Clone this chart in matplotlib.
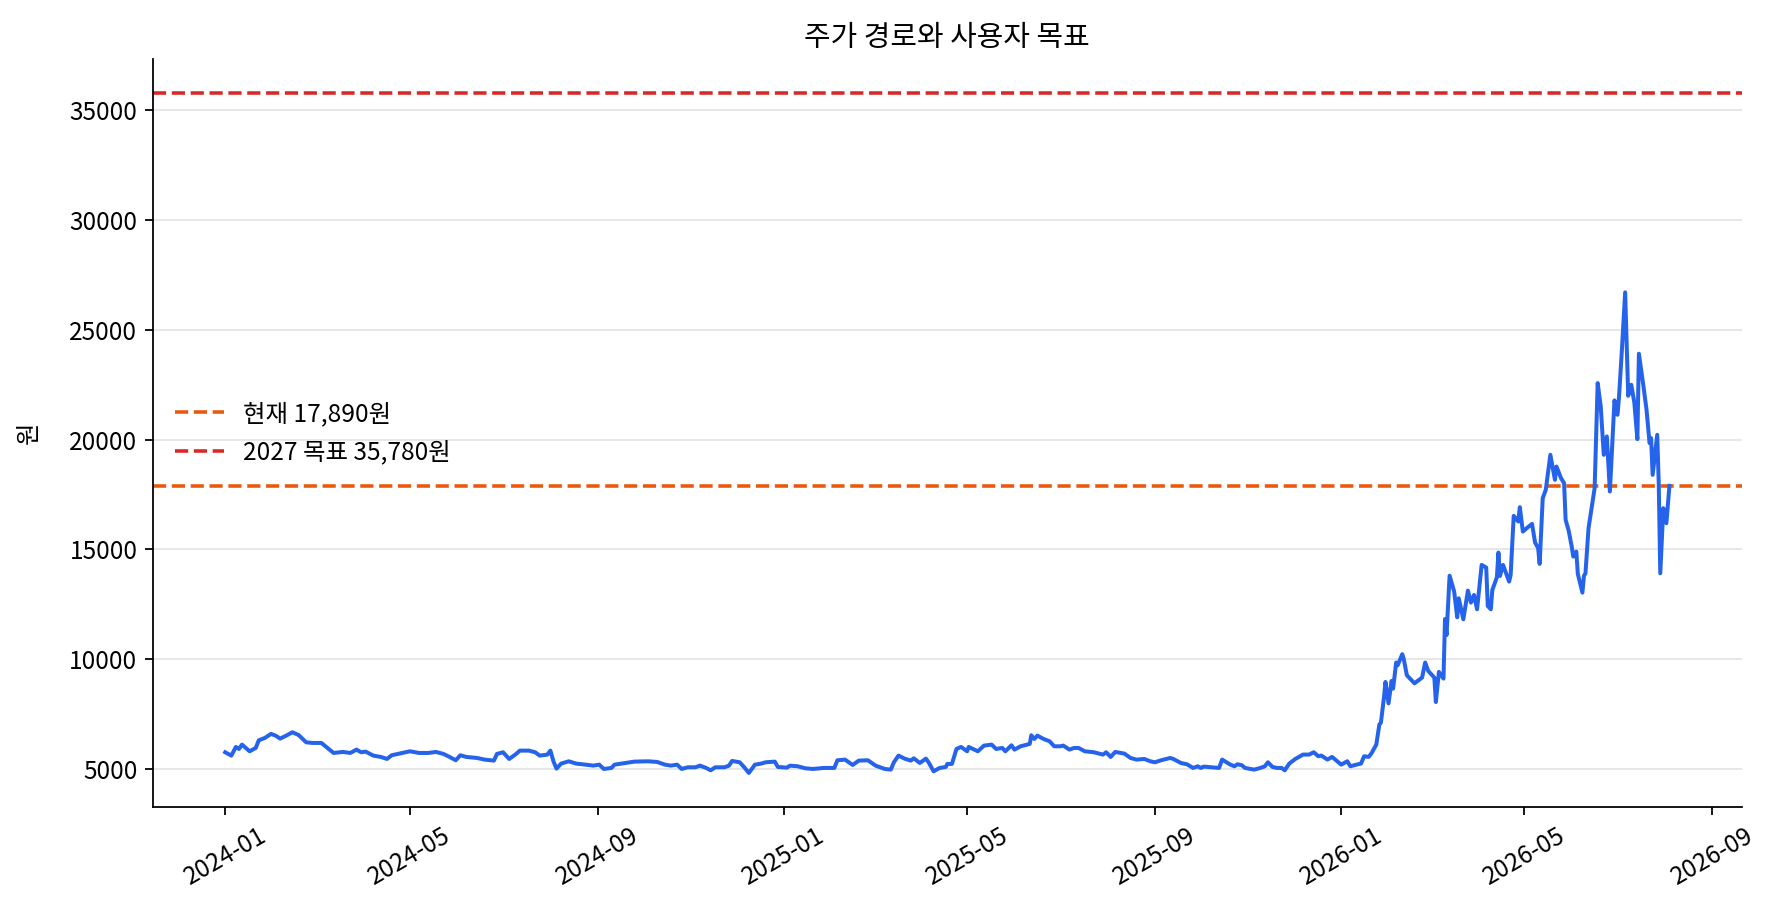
import matplotlib
matplotlib.use("Agg")
import matplotlib.pyplot as plt
import matplotlib.dates as mdates
import pandas as pd

plt.rcParams['font.family'] = ['Noto Sans CJK KR', 'DejaVu Sans']
plt.rcParams['axes.unicode_minus'] = False

# --- data (days since 2024-01-01, price in 원) ---
start_date = "2024-01-01"
day_offsets = [
    0, 4, 7, 9, 11, 16, 20, 22, 26, 30, 33, 36, 40, 44, 48, 53, 57, 63, 67, 71,
    77, 82, 86, 89, 92, 97, 102, 106, 109, 116, 121, 127, 133, 138, 143, 147, 151, 154, 158, 165,
    170, 176, 178, 182, 186, 190, 193, 199, 203, 206, 211, 213, 215, 217, 220, 225, 230, 236, 241, 245,
    248, 253, 255, 262, 268, 277, 283, 288, 292, 296, 299, 303, 308, 311, 315, 318, 321, 327, 330, 332,
    337, 340, 343, 347, 351, 354, 360, 362, 368, 370, 375, 380, 385, 392, 399, 401, 406, 411, 415, 421,
    426, 432, 436, 438, 441, 445, 449, 451, 455, 459, 461, 464, 468, 472, 473, 476, 479, 482, 486, 487,
    493, 497, 502, 505, 509, 511, 515, 517, 521, 527, 528, 530, 532, 536, 540, 543, 547, 549, 553, 556,
    559, 563, 569, 575, 577, 580, 583, 589, 593, 597, 602, 606, 609, 613, 619, 621, 626, 630, 634, 637,
    639, 641, 651, 653, 658, 661, 663, 666, 668, 674, 678, 681, 683, 686, 689, 692, 694, 697, 701, 706,
    710, 713, 716, 718, 722, 725, 731, 735, 737, 741, 744, 746, 749, 751, 754, 756, 757, 759, 760, 762,
    764, 765, 767, 768, 771, 772, 774, 779, 784, 786, 788, 792, 793, 795, 798, 799, 800, 802, 805, 807,
    808, 811, 814, 816, 818, 820, 823, 826, 827, 829, 830, 833, 834, 835, 837, 841, 842, 844, 847, 848,
    850, 853, 856, 858, 860, 861, 863, 865, 868, 871, 872, 875, 877, 878, 880, 882, 883, 885, 886, 889,
    890, 891, 893, 897, 899, 901, 903, 905, 907, 909, 910, 912, 913, 915, 917, 919, 921, 923, 925, 926,
    929, 931, 933, 934, 935, 938, 939, 940, 942, 944, 946,
]
price = [
    5760, 5608, 6003, 5911, 6109, 5805, 5957, 6306, 6413, 6595, 6519, 6382, 6519, 6671, 6549, 6215, 6185, 6185, 5957, 5729,
    5775, 5729, 5881, 5760, 5790, 5608, 5547, 5456, 5623, 5729, 5805, 5729, 5729, 5775, 5684, 5547, 5395, 5623, 5547, 5501,
    5425, 5380, 5684, 5760, 5456, 5653, 5835, 5835, 5760, 5608, 5653, 5835, 5349, 5015, 5243, 5349, 5243, 5197, 5152, 5197,
    5000, 5046, 5197, 5273, 5334, 5349, 5319, 5197, 5152, 5197, 5000, 5076, 5076, 5152, 5046, 4939, 5076, 5076, 5152, 5365,
    5304, 5076, 4818, 5197, 5243, 5304, 5334, 5091, 5061, 5152, 5122, 5030, 5000, 5046, 5046, 5395, 5425, 5182, 5380, 5395,
    5152, 5000, 4970, 5304, 5608, 5471, 5380, 5486, 5273, 5471, 5273, 4894, 5046, 5091, 5228, 5228, 5911, 6003, 5805, 6003,
    5805, 6063, 6109, 5911, 5957, 5805, 6078, 5881, 6033, 6139, 6534, 6367, 6519, 6367, 6261, 6033, 6033, 6063, 5881, 5957,
    5957, 5805, 5760, 5653, 5760, 5547, 5775, 5699, 5501, 5425, 5456, 5349, 5304, 5395, 5501, 5456, 5273, 5213, 5046, 5122,
    5046, 5107, 5046, 5427, 5213, 5122, 5213, 5168, 5046, 4970, 5046, 5122, 5305, 5091, 5046, 5046, 4939, 5244, 5457, 5655,
    5655, 5762, 5579, 5610, 5427, 5549, 5198, 5351, 5122, 5198, 5244, 5579, 5549, 5732, 6113, 7027, 7103, 8246, 8962, 7987,
    9008, 8658, 9846, 9724, 10227, 9998, 9267, 8901, 9161, 9846, 9465, 9161, 8048, 9420, 9115, 11828, 11096, 13800, 13076, 11906,
    12772, 11815, 13121, 12574, 12924, 12271, 14291, 14170, 12422, 12271, 13152, 13729, 14853, 13790, 14291, 13531, 13835, 16524, 16266, 16919,
    15810, 15992, 16159, 15309, 15050, 14337, 17329, 17708, 19304, 18165, 18772, 18240, 18012, 16342, 15855, 15126, 14671, 14898, 13881, 13030,
    13790, 13911, 15962, 17785, 22570, 21506, 19304, 20139, 17633, 20443, 21780, 21127, 21962, 24241, 26701, 21992, 22494, 21689, 20018, 23906,
    22418, 21354, 19836, 20063, 18392, 20215, 18012, 13911, 16873, 16190, 17890,
]

current_price = 17890
target_price = 35780
current_label = "현재 17,890원"
target_label = "2027 목표 35,780원"

dates = pd.Timestamp(start_date) + pd.to_timedelta(day_offsets, unit="D")

# --- figure ---
fig = plt.figure(figsize=(1779 / 160, 917 / 160), dpi=160)
ax = fig.add_axes([0.086, 0.12, 0.893, 0.8157])

ax.plot(dates, price, color="#2563eb", linewidth=1.8, zorder=3)
ax.axhline(current_price, color="#ea580c", linestyle="--", linewidth=1.6, label=current_label, zorder=2)
ax.axhline(target_price, color="#dc2626", linestyle="--", linewidth=1.6, label=target_label, zorder=2)

ax.set_title("주가 경로와 사용자 목표", fontsize=13)
ax.set_ylabel("원", fontsize=11)
ax.yaxis.set_label_coords(-0.07, 0.5)

ax.xaxis.set_major_locator(mdates.MonthLocator(bymonth=[1, 5, 9]))
ax.xaxis.set_major_formatter(mdates.DateFormatter("%Y-%m"))
ax.tick_params(axis="both", labelsize=11)
plt.setp(ax.get_xticklabels(), rotation=30)

ax.grid(axis="y", color="#e5e7eb", linewidth=0.9)
ax.set_axisbelow(True)
ax.spines["top"].set_visible(False)
ax.spines["right"].set_visible(False)

ax.legend(loc="center left", frameon=False, fontsize=11)

fig.savefig("out.png", dpi=160)
